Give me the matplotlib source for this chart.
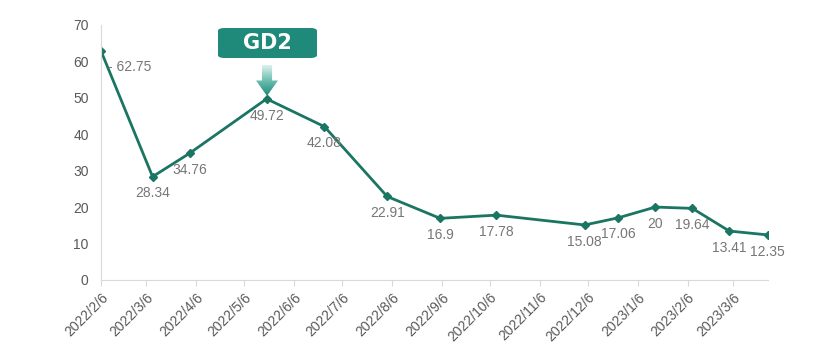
import matplotlib.pyplot as plt
from matplotlib.patches import FancyBboxPatch, Polygon
from matplotlib.colors import LinearSegmentedColormap
import numpy as np
import pandas as pd

plt.rcParams['font.family'] = ['Liberation Sans', 'DejaVu Sans']

# data
dates = ['2022-02-06', '2022-03-10', '2022-04-02', '2022-05-20', '2022-06-25',
         '2022-08-03', '2022-09-05', '2022-10-10', '2022-12-04', '2022-12-25',
         '2023-01-17', '2023-02-09', '2023-03-04', '2023-03-28']
values = [62.75, 28.34, 34.76, 49.72, 42.08, 22.91, 16.9, 17.78, 15.08, 17.06,
          20, 19.64, 13.41, 12.35]
tick_dates = ['2022-02-06', '2022-03-06', '2022-04-06', '2022-05-06', '2022-06-06',
              '2022-07-06', '2022-08-06', '2022-09-06', '2022-10-06', '2022-11-06',
              '2022-12-06', '2023-01-06', '2023-02-06', '2023-03-06']
tick_labels = ['2022/2/6', '2022/3/6', '2022/4/6', '2022/5/6', '2022/6/6',
               '2022/7/6', '2022/8/6', '2022/9/6', '2022/10/6', '2022/11/6',
               '2022/12/6', '2023/1/6', '2023/2/6', '2023/3/6']

x = pd.to_datetime(dates)
xt = pd.to_datetime(tick_dates)

line_color = '#1b7563'
text_gray = '#767676'

fig = plt.figure(figsize=(8.16, 3.57), dpi=100)
ax = fig.add_axes([0.124, 0.216, 0.817, 0.714])

ax.plot(x, values, color=line_color, lw=2, marker='D', markersize=4)

for i, (d, v) in enumerate(zip(x, values)):
    if i == 0:
        ax.annotate('- ' + str(v), xy=(d, v), xytext=(5, -11), textcoords='offset points',
                    ha='left', va='center', fontsize=10, color=text_gray)
    else:
        ax.annotate(str(v), xy=(d, v), xytext=(0, -12), textcoords='offset points',
                    ha='center', va='center', fontsize=10, color=text_gray)

ax.set_xlim(pd.Timestamp('2022-02-06'), pd.Timestamp('2023-03-28'))
ax.set_ylim(0, 70)
ax.set_yticks(range(0, 71, 10))
ax.set_xticks(xt)
ax.set_xticklabels(tick_labels, rotation=45, ha='right', rotation_mode='anchor')

for s in ['top', 'right']:
    ax.spines[s].set_visible(False)
for s in ['left', 'bottom']:
    ax.spines[s].set_color('#d9d9d9')
ax.tick_params(axis='y', length=0, labelsize=10, labelcolor='#595959', pad=9)
ax.tick_params(axis='x', length=4, color='#d9d9d9', labelsize=10, labelcolor='#595959')

# GD2 label box
box = FancyBboxPatch((218 / 816, 1 - 58 / 357), 99 / 816, 30 / 357,
                     boxstyle='round,pad=0,rounding_size=0.008',
                     transform=fig.transFigure, facecolor='#1f8a7a', edgecolor='none')
fig.add_artist(box)
fig.text(267.5 / 816, 1 - 43 / 357, 'GD2', color='white', fontsize=15,
         fontweight='bold', ha='center', va='center', family='DejaVu Sans')

# gradient arrow
aax = fig.add_axes([256 / 816, 1 - 96 / 357, 22 / 816, 31 / 357])
aax.axis('off')
cmap = LinearSegmentedColormap.from_list('g', ['#e6f4f1', '#6fc0b2', '#1f8a7a'])
grad = np.linspace(0, 1, 100).reshape(-1, 1)
im = aax.imshow(grad, cmap=cmap, aspect='auto', extent=[0, 1, 0, 1], origin='upper')
arrow = Polygon([(0.27, 1), (0.73, 1), (0.73, 0.5), (1, 0.5), (0.5, 0), (0, 0.5), (0.27, 0.5)],
                closed=True, transform=aax.transAxes, facecolor='none', edgecolor='none')
aax.add_patch(arrow)
im.set_clip_path(arrow)

fig.savefig('out.png', dpi=100)
